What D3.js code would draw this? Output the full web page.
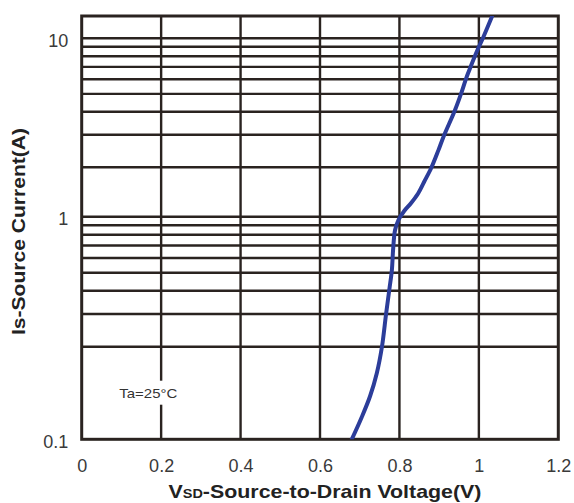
<!DOCTYPE html>
<html>
<head>
<meta charset="utf-8">
<script src="https://cdn.jsdelivr.net/npm/d3@7/dist/d3.min.js"></script>
<style>
  html, body { margin: 0; padding: 0; background: #ffffff; }
  svg { display: block; }
</style>
</head>
<body>
<div id="chart"></div>
<script>
// ---- data ----
const vsd = [0.680, 0.705, 0.726, 0.743, 0.756, 0.7665, 0.775, 0.781, 0.784, 0.789, 0.7975,
             0.812, 0.8295, 0.847, 0.862, 0.880, 0.898, 0.911, 0.940, 0.957, 0.968, 0.976,
             0.986, 0.9965, 1.010, 1.033];
const isCurrent = [0.100, 0.118, 0.138, 0.164, 0.200, 0.302, 0.412, 0.517, 0.662, 0.848, 0.960,
                   1.083, 1.212, 1.385, 1.627, 1.98, 2.47, 2.93, 4.09, 5.14, 6.07, 6.73,
                   7.63, 8.64, 10.0, 13.2];
const xTicks = [0, 0.2, 0.4, 0.6, 0.8, 1.0, 1.2];
const xTickLabels = ["0", "0.2", "0.4", "0.6", "0.8", "1", "1.2"];
const yTicks = [0.1, 1, 10];
const yTickLabels = ["0.1", "1", "10"];
const yGrid = [0.2, 0.3, 0.4, 0.5, 0.6, 0.7, 0.8, 0.9, 1, 2, 3, 4, 5, 6, 7, 8, 9, 10];
const xGrid = [0.2, 0.4, 0.6, 0.8, 1.0];
const noteText = "Ta=25°C";

const W = 574, H = 503;
const pL = 81.7, pR = 558.3, pT = 16, pB = 439.3;

const svg = d3.select("#chart").append("svg").attr("width", W).attr("height", H);

const x = d3.scaleLinear().domain([0, 1.2]).range([pL, pR]);
// log scale, piecewise to follow the printed grid of the original sheet
const y = d3.scaleLog().domain([0.1, 0.2, 1, 2, 10, 13.3]).range([pB, 346.7, 216.7, 167.3, 38.3, pT]);

const gridColor = "#2a2320";
const fontFam = "Liberation Sans, Arial, sans-serif";

// horizontal grid
svg.append("g").selectAll("line").data(yGrid).join("line")
  .attr("x1", pL).attr("x2", pR)
  .attr("y1", d => y(d)).attr("y2", d => y(d))
  .attr("stroke", gridColor).attr("stroke-width", 2.4);

// vertical grid
svg.append("g").selectAll("line").data(xGrid).join("line")
  .attr("y1", pT).attr("y2", pB)
  .attr("x1", d => x(d)).attr("x2", d => x(d))
  .attr("stroke", gridColor).attr("stroke-width", 2.4);

// annotation with white background
const note = svg.append("g");
const noteBg = note.append("rect").attr("fill", "#fff");
const noteT = note.append("text")
  .attr("x", 148.3).attr("y", 397.7)
  .attr("text-anchor", "middle")
  .attr("font-family", fontFam)
  .attr("font-size", 13.5)
  .attr("fill", "#333")
  .attr("textLength", 58).attr("lengthAdjust", "spacingAndGlyphs")
  .text(noteText);
const bb = noteT.node().getBBox();
noteBg.attr("x", bb.x - 2).attr("y", bb.y - 5).attr("width", bb.width + 4).attr("height", bb.height + 9);

// frame
svg.append("rect")
  .attr("x", pL).attr("y", pT)
  .attr("width", pR - pL).attr("height", pB - pT)
  .attr("fill", "none").attr("stroke", gridColor).attr("stroke-width", 3);

// curve
svg.append("clipPath").attr("id", "clip").append("rect")
  .attr("x", pL).attr("y", pT).attr("width", pR - pL).attr("height", pB - pT);

const pts = vsd.map((v, i) => [v, isCurrent[i]]);
const line = d3.line().x(d => x(d[0])).y(d => y(d[1])).curve(d3.curveCatmullRom.alpha(0.5));
svg.append("path")
  .attr("clip-path", "url(#clip)")
  .attr("d", line(pts))
  .attr("fill", "none")
  .attr("stroke", "#2c3d9a")
  .attr("stroke-width", 4)
  .attr("stroke-linecap", "round");

// axes (labels only)
const xAxis = d3.axisBottom(x).tickValues(xTicks).tickSize(0).tickPadding(20)
  .tickFormat((d, i) => xTickLabels[i]);
const gx = svg.append("g").attr("transform", `translate(0,${pB})`).call(xAxis);
gx.select(".domain").remove();
gx.selectAll("text").attr("font-family", fontFam).attr("font-size", 18).attr("fill", "#3a3a3a");

const yAxis = d3.axisLeft(y).tickValues(yTicks).tickSize(0).tickPadding(13.5)
  .tickFormat((d, i) => yTickLabels[i]);
const gy = svg.append("g").attr("transform", `translate(${pL},0)`).call(yAxis);
gy.select(".domain").remove();
gy.selectAll("text").attr("font-family", fontFam).attr("font-size", 18).attr("fill", "#3a3a3a")
  .attr("dy", "0.45em");

// axis titles
const xt = svg.append("text")
  .attr("x", 325).attr("y", 498.3)
  .attr("text-anchor", "middle")
  .attr("font-family", fontFam).attr("font-weight", "bold")
  .attr("font-size", 18.5).attr("fill", "#222")
  .attr("textLength", 313).attr("lengthAdjust", "spacingAndGlyphs");
xt.append("tspan").text("V");
xt.append("tspan").attr("font-size", 12.5).text("SD");
xt.append("tspan").text("-Source-to-Drain Voltage(V)");

svg.append("text")
  .attr("transform", "translate(24.5,231.5) rotate(-90)")
  .attr("text-anchor", "middle")
  .attr("font-family", fontFam).attr("font-weight", "bold")
  .attr("font-size", 18).attr("fill", "#222")
  .attr("textLength", 207).attr("lengthAdjust", "spacingAndGlyphs")
  .text("Is-Source Current(A)");
</script>
</body>
</html>
